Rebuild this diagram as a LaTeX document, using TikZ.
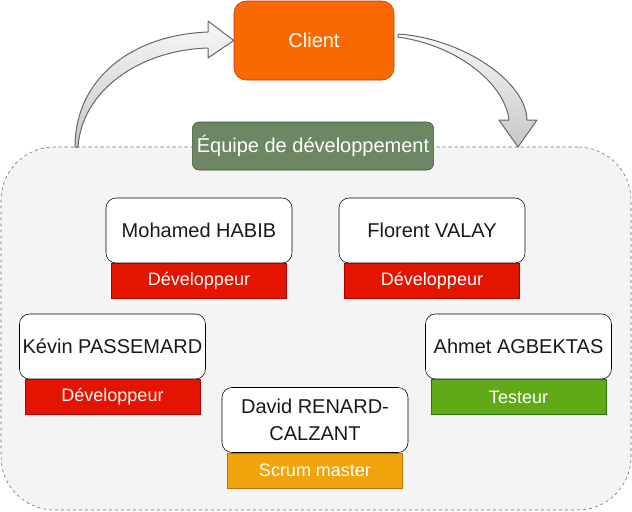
\documentclass[tikz,border=0pt]{standalone}
\usepackage{fontspec}
\setmainfont{Liberation Sans}
\usetikzlibrary{positioning}

\definecolor{clientfill}{HTML}{FA6800}
\definecolor{clientline}{HTML}{C73500}
\definecolor{teamfill}{HTML}{6D8764}
\definecolor{teamline}{HTML}{3A5431}
\definecolor{devfill}{HTML}{E51400}
\definecolor{devline}{HTML}{B20000}
\definecolor{testfill}{HTML}{60A917}
\definecolor{testline}{HTML}{2D7600}
\definecolor{scrumfill}{HTML}{F0A30A}
\definecolor{scrumline}{HTML}{BD7000}
\definecolor{zonefill}{HTML}{F4F4F4}
\definecolor{arrowline}{HTML}{666666}

\begin{document}
\begin{tikzpicture}[x=0.75pt, y=-0.75pt,
  person/.style={draw=black, fill=white, rounded corners=7.5pt, minimum width=139.5pt,
    minimum height=48.75pt, inner sep=0pt, align=center, text=black!90,
    font=\fontsize{15}{20}\selectfont},
  role/.style={minimum width=131.25pt, minimum height=26.25pt, inner sep=0pt,
    text=white, font=\fontsize{13.5}{15}\selectfont},
  flexarrow/.style={draw=arrowline, line width=0.75pt, line join=round,
    top color=black!3, bottom color=black!22}]
\useasboundingbox (0,0) rectangle (632,511);

% team area
\node[draw=arrowline, dash pattern=on 2.25pt off 2.25pt, fill=zonefill, rounded corners=40pt,
  minimum width=472.5pt, minimum height=272.25pt] (zone) at (316,328.5) {};

\node[draw=clientline, fill=clientfill, rounded corners=9pt, minimum width=120pt,
  minimum height=59.25pt, text=white, font=\fontsize{15}{18}\selectfont] (client) at (314,40.5) {Client};

% curved arrows
\draw[flexarrow] (75,147) .. controls (75,80) and (130,35) .. (208,32) -- (208,21) -- (client.west)
  -- (208,58) -- (208,48) .. controls (140,50) and (82,90) .. (78,147) -- cycle;
\draw[flexarrow] (398,34) .. controls (460,38) and (526,80) .. (527,120) -- (537,120) -- (518,147)
  -- (499,120) -- (509,120) .. controls (505,85) and (460,46) .. (398,37) -- cycle;

\node[draw=teamline, fill=teamfill, rounded corners=5pt, minimum width=180pt, minimum height=36pt,
  text=white, font=\fontsize{15}{18}\selectfont] (team) at (313,146) {Équipe de développement};

% members
\node[person] (mohamed) at (199,230.5) {Mohamed HABIB};
\node[role, fill=devfill, draw=devline, below=0pt of mohamed] (mohamedrole) {Développeur};

\node[person] (florent) at (432,230.5) {Florent VALAY};
\node[role, fill=devfill, draw=devline, below=0pt of florent] (florentrole) {Développeur};

\node[person] (kevin) at (112.5,346.5) {Kévin PASSEMARD};
\node[role, fill=devfill, draw=devline, below=0pt of kevin] (kevinrole) {Développeur};

\node[person] (ahmet) at (518.5,346.5) {Ahmet AGBEKTAS};
\node[role, fill=testfill, draw=testline, below=0pt of ahmet] (ahmetrole) {Testeur};

\node[person] (david) at (315,420) {David RENARD-\\CALZANT};
\node[role, fill=scrumfill, draw=scrumline, below=0pt of david] (davidrole) {Scrum master};
\end{tikzpicture}
\end{document}
